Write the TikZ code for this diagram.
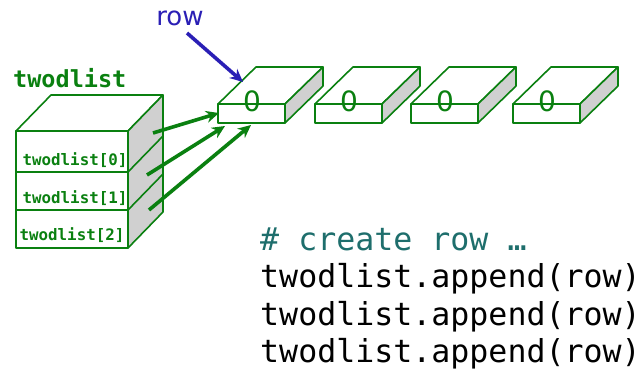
\documentclass[tikz,border=0pt]{standalone}
\usepackage{fontspec}
\setmainfont{DejaVu Sans}
\setmonofont{DejaVu Sans Mono}
\usetikzlibrary{arrows.meta}
\definecolor{gr}{HTML}{0A8010}
\definecolor{shade}{HTML}{D0D0D0}
\definecolor{bl}{HTML}{2A1FB5}
\definecolor{teal}{HTML}{1E6E6C}
\begin{document}
\begin{tikzpicture}[x=1pt,y=-1pt,
  edge/.style={draw=gr,line width=1.6pt,line join=round},
  garrow/.style={draw=gr,line width=3.6pt,-{Stealth[length=13pt,width=12pt]}},
  barrow/.style={draw=bl,line width=3.6pt,-{Stealth[length=13pt,width=12pt]}},
  zero/.style={text=gr,font=\rmfamily\fontsize{28}{28}\selectfont,inner sep=0pt},
  cell/.style={text=gr,font=\ttfamily\bfseries\fontsize{15.8}{16}\selectfont,inner sep=0pt,anchor=base},
  code/.style={font=\ttfamily\fontsize{31.6}{32}\selectfont,inner sep=0pt,anchor=base west}]
\useasboundingbox (0,0) rectangle (644,374);
% stack
\path[edge,fill=white] (16,131) -- (128,131) -- (163,95) -- (51,95) -- cycle;
\path[edge,fill=shade] (128,131) -- (128,248) -- (163,212) -- (163,95) -- cycle;
\draw[edge] (16,131) rectangle (128,248);
\draw[edge] (16,172) -- (128,172) -- (163,136);
\draw[edge] (16,210) -- (128,210) -- (163,174);
\node[text=gr,font=\ttfamily\bfseries\fontsize{23.5}{24}\selectfont,inner sep=0pt,anchor=base west] (lbl) at (13,88) {twodlist};
\node[cell] (c0) at (75,165) {twodlist[0]};
\node[cell] (c1) at (75,203) {twodlist[1]};
\node[cell] (c2) at (72,240) {twodlist[2]};
% row boxes
\foreach \i/\x in {1/218,2/315,3/411,4/513}{
  \path[edge,fill=white] (\x,104) -- (\x+67,104) -- (\x+105,67) -- (\x+38,67) -- cycle;
  \path[edge,fill=shade] (\x+67,104) -- (\x+67,123) -- (\x+105,86) -- (\x+105,67) -- cycle;
  \draw[edge,fill=white] (\x,104) rectangle (\x+67,123);
  \coordinate (b\i) at (\x,104);
  \node[zero] (z\i) at (\x+34,101) {0};
}
% arrows
\coordinate (s0) at (153,133);
\coordinate (s1) at (147,175);
\coordinate (s2) at (149,210);
\coordinate (t0) at (219,113);
\coordinate (t1) at (225,126);
\coordinate (t2) at (251,125);
\draw[garrow] (s0) -- (t0);
\draw[garrow] (s1) -- (t1);
\draw[garrow] (s2) -- (t2);
\node[text=bl,font=\fontsize{26}{26}\selectfont,inner sep=0pt] (row) at (180,18) {row};
\coordinate (rt) at (243,82);
\draw[barrow] (187,33) -- (rt);
% code
\node[code,text=teal] (l1) at (260,250) {\# create row …};
\node[code] (l2) at (260,287) {twodlist.append(row)};
\node[code] (l3) at (260,325) {twodlist.append(row)};
\node[code] (l4) at (260,362) {twodlist.append(row)};
\end{tikzpicture}
\end{document}
